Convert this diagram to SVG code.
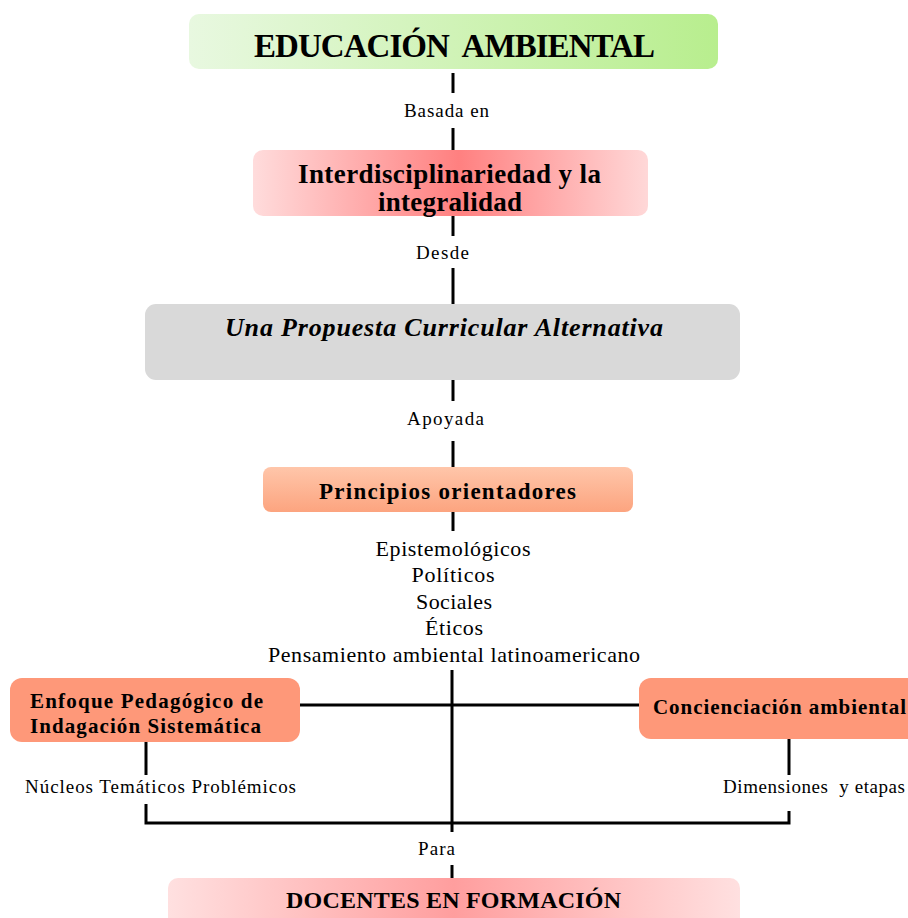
<svg xmlns="http://www.w3.org/2000/svg" width="908" height="918" viewBox="0 0 908 918">
<style>
text{font-family:"Liberation Serif","Times New Roman",serif;fill:#000}
.b{font-weight:bold}
.lbl{font-size:19px}
.lst{font-size:22px;text-anchor:middle}
.ln{stroke:#000;stroke-width:3;fill:none}
</style>
<defs>
<linearGradient id="gGreen" x1="0" y1="0" x2="1" y2="0">
<stop offset="0" stop-color="#e8f8e0"/><stop offset="1" stop-color="#b8ee8e"/>
</linearGradient>
<linearGradient id="gRed" x1="0" y1="0" x2="1" y2="0">
<stop offset="0" stop-color="#ffdcdc"/><stop offset="0.52" stop-color="#ff8080"/><stop offset="1" stop-color="#ffd8d8"/>
</linearGradient>
<linearGradient id="gPeach" x1="0" y1="0" x2="0" y2="1">
<stop offset="0" stop-color="#ffc6aa"/><stop offset="1" stop-color="#fca47f"/>
</linearGradient>
<linearGradient id="gPink" x1="0" y1="0" x2="1" y2="0">
<stop offset="0" stop-color="#ffe0e0"/><stop offset="0.5" stop-color="#ff9e9e"/><stop offset="1" stop-color="#ffe0e0"/>
</linearGradient>
</defs>

<g id="connectors">
<line class="ln" x1="453" y1="73" x2="453" y2="93"/>
<line class="ln" x1="453" y1="128" x2="453" y2="150"/>
<line class="ln" x1="453" y1="216" x2="453" y2="236"/>
<line class="ln" x1="453" y1="268" x2="453" y2="304"/>
<line class="ln" x1="453" y1="380" x2="453" y2="401"/>
<line class="ln" x1="453" y1="441" x2="453" y2="467"/>
<line class="ln" x1="453" y1="512" x2="453" y2="531"/>
<line class="ln" x1="452" y1="670" x2="452" y2="832"/>
<line class="ln" x1="300" y1="705" x2="639" y2="705"/>
<line class="ln" x1="146" y1="742" x2="146" y2="775"/>
<polyline class="ln" points="146,804 146,823 789,823 789,811"/>
<line class="ln" x1="789" y1="739" x2="789" y2="775"/>
<line class="ln" x1="452" y1="865" x2="452" y2="879"/>
<text class="lbl" x="404" y="117" textLength="85" lengthAdjust="spacing">Basada en</text>
<text class="lbl" x="416" y="259" textLength="53" lengthAdjust="spacing">Desde</text>
<text class="lbl" x="407" y="425" textLength="77" lengthAdjust="spacing">Apoyada</text>
<text class="lbl" x="25" y="793" textLength="271" lengthAdjust="spacing">Núcleos Temáticos Problémicos</text>
<text class="lbl" x="723" y="793" textLength="182" lengthAdjust="spacing" xml:space="preserve">Dimensiones  y etapas</text>
<text class="lbl" x="418" y="855" textLength="37" lengthAdjust="spacing">Para</text>
</g>

<g id="n1">
<rect x="189" y="14" width="529" height="55" rx="10" fill="url(#gGreen)"/>
<text class="b" x="254" y="57" font-size="33" textLength="401" lengthAdjust="spacing" xml:space="preserve">EDUCACIÓN  AMBIENTAL</text>
</g>

<g id="n2">
<rect x="253" y="150" width="395" height="66" rx="10" fill="url(#gRed)"/>
<text class="b" x="298" y="183" font-size="27" textLength="303" lengthAdjust="spacing">Interdisciplinariedad y la</text>
<text class="b" x="378" y="211" font-size="27" textLength="144" lengthAdjust="spacing">integralidad</text>
</g>

<g id="n3">
<rect x="145" y="304" width="595" height="76" rx="11" fill="#d9d9d9"/>
<text class="b" x="225" y="336" font-size="26" font-style="italic" textLength="438" lengthAdjust="spacing">Una Propuesta Curricular Alternativa</text>
</g>

<g id="n4">
<rect x="263" y="467" width="370" height="45" rx="8" fill="url(#gPeach)"/>
<text class="b" x="319" y="499" font-size="23" textLength="257" lengthAdjust="spacing">Principios orientadores</text>
</g>

<g id="n4list">
<text class="lst" x="453" y="556" textLength="155" lengthAdjust="spacing">Epistemológicos</text>
<text class="lst" x="453" y="582" textLength="83" lengthAdjust="spacing">Políticos</text>
<text class="lst" x="454" y="609" textLength="76" lengthAdjust="spacing">Sociales</text>
<text class="lst" x="454" y="635" textLength="58" lengthAdjust="spacing">Éticos</text>
<text class="lst" x="454" y="662" textLength="372" lengthAdjust="spacing">Pensamiento ambiental latinoamericano</text>
</g>

<g id="n5">
<rect x="10" y="678" width="290" height="64" rx="12" fill="#fe9879"/>
<text class="b" x="30" y="708" font-size="21" textLength="233" lengthAdjust="spacing">Enfoque Pedagógico de</text>
<text class="b" x="30" y="733" font-size="21" textLength="231" lengthAdjust="spacing">Indagación Sistemática</text>
</g>

<g id="n6">
<rect x="639" y="678" width="290" height="61" rx="12" fill="#fe9879"/>
<text class="b" x="653" y="714" font-size="21" textLength="253" lengthAdjust="spacing">Concienciación ambiental</text>
</g>

<g id="n7">
<rect x="168" y="878" width="572" height="60" rx="10" fill="url(#gPink)"/>
<text class="b" x="286" y="908" font-size="24" textLength="335" lengthAdjust="spacing">DOCENTES EN FORMACIÓN</text>
</g>
</svg>
